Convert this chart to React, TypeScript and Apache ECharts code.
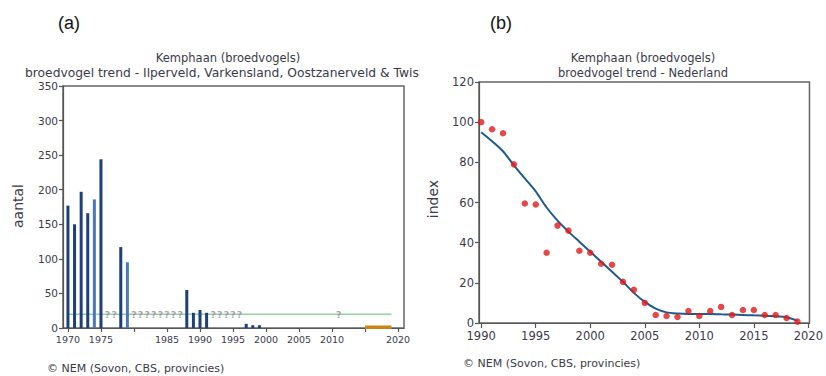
import React, { useEffect, useRef } from 'react';
import * as echarts from 'echarts';

const FONT = 'DejaVu Sans';
const TEXT = '#3a3a48';

// Left panel (a): counts
const barYears = [1970, 1971, 1972, 1973, 1974, 1975, 1978, 1979, 1988, 1989, 1990, 1991, 1997, 1998, 1999];
const barCounts = [177, 150, 197, 166, 186, 244, 117, 95, 55, 22, 26, 22, 6, 4, 4];
const lightBarYears = [1974, 1979];
const unknownYears = [1976, 1977, 1980, 1981, 1982, 1983, 1984, 1985, 1986, 1987, 1992, 1993, 1994, 1995, 1996, 2011];
const unknownLevel = 19;
const refLine = [[1970, 20], [2019, 20]];
const recentLine = [[2015, 1], [2019, 1]];
const leftTicks = [1970, 1975, 1980, 1985, 1990, 1995, 2000, 2005, 2010, 2015, 2020];
const leftTickLabels = [1970, 1975, 1985, 1990, 1995, 2000, 2005, 2010, 2020];

// Right panel (b): index
const indexYears = [1990, 1991, 1992, 1993, 1994, 1995, 1996, 1997, 1998, 1999, 2000, 2001, 2002, 2003, 2004, 2005, 2006, 2007, 2008, 2009, 2010, 2011, 2012, 2013, 2014, 2015, 2016, 2017, 2018, 2019];
const indexValues = [100, 96.5, 94.5, 79, 59.5, 59, 35, 48.5, 46, 36, 35, 29.5, 29, 20.5, 16.5, 10, 4, 3.5, 3, 6, 3.5, 6, 8, 4, 6.5, 6.5, 4, 4, 2.5, 0.7];
const trendValues = [95, 90.5, 85.5, 78.5, 72, 65.5, 57.5, 51, 45.5, 40.5, 35.5, 30.5, 25.5, 20.5, 15, 10.5, 7.2, 5.3, 4.7, 4.5, 4.5, 4.5, 4.3, 4.2, 4.0, 3.8, 3.6, 3.3, 2.9, 1.2];
const rightTicks = [1990, 1995, 2000, 2005, 2010, 2015, 2020];

function Chart({ option, style }: { option: any; style: React.CSSProperties }) {
  const ref = useRef<HTMLDivElement>(null);
  useEffect(() => {
    if (!ref.current) return;
    const chart = echarts.init(ref.current, null, { renderer: 'svg' });
    chart.setOption(option);
    return () => chart.dispose();
  }, [option]);
  return <div ref={ref} style={style} />;
}

const axisLineStyle = { color: '#555', width: 1.2 };
const plain = (v: number) => String(v);

const leftOption = {
  animation: false,
  grid: { left: 63, right: 16, top: 86, bottom: 48, show: true, borderColor: '#666', borderWidth: 1.5 },
  xAxis: {
    type: 'value', min: 1969.25, max: 2020.9,
    splitLine: { show: false },
    axisLine: { lineStyle: axisLineStyle },
    axisTick: { show: true, length: 4, customValues: leftTicks, lineStyle: axisLineStyle },
    axisLabel: { customValues: leftTickLabels, formatter: plain, fontFamily: FONT, fontSize: 9.5, color: TEXT, margin: 6 },
  },
  yAxis: {
    type: 'value', min: 0, max: 350, interval: 50,
    splitLine: { show: false },
    axisLine: { show: true, lineStyle: axisLineStyle },
    axisTick: { show: true, length: 4, lineStyle: axisLineStyle },
    axisLabel: { fontFamily: FONT, fontSize: 10.5, color: TEXT, margin: 5 },
  },
  graphic: [
    { type: 'text', x: 69, y: 23, style: { text: '(a)', font: '18px "Liberation Sans"', fill: '#111', align: 'center', verticalAlign: 'middle' } },
    { type: 'text', x: 228, y: 58, style: { text: 'Kemphaan (broedvogels)', font: `11.5px "${FONT}"`, fill: TEXT, align: 'center', verticalAlign: 'middle' } },
    { type: 'text', x: 25, y: 73, style: { text: 'broedvogel trend - Ilperveld, Varkensland, Oostzanerveld & Twiske', font: `12.3px "${FONT}"`, fill: TEXT, align: 'left', verticalAlign: 'middle' } },
    { type: 'text', x: 18, y: 206, rotation: Math.PI / 2, style: { text: 'aantal', font: `14px "${FONT}"`, fill: TEXT, align: 'center', verticalAlign: 'middle' } },
    { type: 'text', x: 47, y: 368, style: { text: '© NEM (Sovon, CBS, provincies)', font: `11px "${FONT}"`, fill: TEXT, align: 'left', verticalAlign: 'middle' } },
  ],
  series: [
    {
      type: 'bar',
      barWidth: 3,
      data: barYears.map((y, i) => {
        const light = lightBarYears.includes(y);
        return { value: [y, barCounts[i]], itemStyle: { color: light ? '#4a78b8' : '#1d3f7a' } };
      }),
    },
    {
      type: 'line',
      data: refLine,
      symbol: 'none',
      lineStyle: { color: '#8fd3a6', width: 1.5 },
      z: 1,
    },
    {
      type: 'line',
      data: recentLine,
      symbol: 'none',
      lineStyle: { color: '#cc8416', width: 3.5 },
    },
    {
      type: 'scatter',
      data: unknownYears.map((y) => [y, unknownLevel]),
      symbolSize: 1,
      itemStyle: { color: 'rgba(0,0,0,0)' },
      label: { show: true, formatter: '?', position: 'inside', fontFamily: FONT, fontSize: 9.5, fontWeight: 'bold', color: '#a08a9c' },
      z: 3,
    },
  ],
};

const rightOption = {
  animation: false,
  grid: { left: 59, right: 12, top: 82, bottom: 53, show: true, borderColor: '#666', borderWidth: 1.5 },
  xAxis: {
    type: 'value', min: 1989.8, max: 2020.1,
    splitLine: { show: false },
    axisLine: { lineStyle: axisLineStyle },
    axisTick: { show: true, length: 5, customValues: rightTicks, lineStyle: axisLineStyle },
    axisLabel: { customValues: rightTicks, formatter: plain, fontFamily: FONT, fontSize: 11.5, color: TEXT, margin: 7 },
  },
  yAxis: {
    type: 'value', min: 0, max: 120, interval: 20,
    splitLine: { show: false },
    axisLine: { show: true, lineStyle: axisLineStyle },
    axisTick: { show: true, length: 4, lineStyle: axisLineStyle },
    axisLabel: { fontFamily: FONT, fontSize: 11.5, color: TEXT, margin: 5 },
  },
  graphic: [
    { type: 'text', x: 81, y: 23, style: { text: '(b)', font: '18px "Liberation Sans"', fill: '#111', align: 'center', verticalAlign: 'middle' } },
    { type: 'text', x: 223, y: 58, style: { text: 'Kemphaan (broedvogels)', font: `11.5px "${FONT}"`, fill: TEXT, align: 'center', verticalAlign: 'middle' } },
    { type: 'text', x: 223, y: 73, style: { text: 'broedvogel trend - Nederland', font: `11.5px "${FONT}"`, fill: TEXT, align: 'center', verticalAlign: 'middle' } },
    { type: 'text', x: 13, y: 199, rotation: Math.PI / 2, style: { text: 'index', font: `14px "${FONT}"`, fill: TEXT, align: 'center', verticalAlign: 'middle' } },
    { type: 'text', x: 43, y: 363, style: { text: '© NEM (Sovon, CBS, provincies)', font: `11px "${FONT}"`, fill: TEXT, align: 'left', verticalAlign: 'middle' } },
  ],
  series: [
    {
      type: 'line',
      data: indexYears.map((y, i) => [y, trendValues[i]]),
      symbol: 'none',
      smooth: 0.3,
      lineStyle: { color: '#1f5a8c', width: 2 },
      z: 2,
    },
    {
      type: 'scatter',
      data: indexYears.map((y, i) => [y, indexValues[i]]),
      symbolSize: 6.5,
      itemStyle: { color: '#e01a1a' },
      z: 3,
    },
  ],
};

export default function App() {
  return (
    <div style={{ position: 'absolute', left: 0, top: 0, width: 826, height: 376, background: '#fff', overflow: 'hidden' }}>
      <Chart option={leftOption} style={{ position: 'absolute', left: 0, top: 0, width: 420, height: 376, overflow: 'hidden' }} />
      <Chart option={rightOption} style={{ position: 'absolute', left: 420, top: 0, width: 406, height: 376 }} />
    </div>
  );
}
